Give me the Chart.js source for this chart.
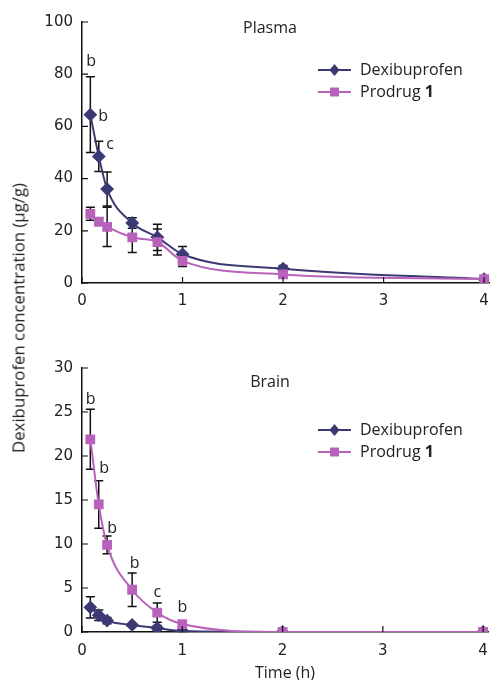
<!DOCTYPE html>
<html><head><meta charset="utf-8">
<script src="https://cdn.jsdelivr.net/npm/chart.js@4"></script>
<style>
body{margin:0;background:#fff;width:498px;height:680px;position:relative;overflow:hidden;font-family:"Open Sans",sans-serif}
.box{position:absolute;left:0;width:498px}
#ytitle{position:absolute;left:18px;top:318px;transform:translate(-50%,-50%) rotate(-90deg);white-space:nowrap;font-size:16.8px;color:#222}
#xtitle{position:absolute;left:285px;top:672px;transform:translate(-50%,-50%);white-space:nowrap;font-size:16px;color:#222}
</style></head><body>
<div class="box" style="top:0;height:320px"><canvas id="plasma"></canvas></div>
<div class="box" style="top:340px;height:340px"><canvas id="brain"></canvas></div>
<div id="ytitle">Dexibuprofen concentration (μg/g)</div>
<div id="xtitle">Time (h)</div>
<script>
// sampling times (h)
const times = [0.083, 0.167, 0.25, 0.5, 0.75, 1, 2, 4];
const xTicks = [0, 1, 2, 3, 4];

const plasmaDex    = [64.5, 48.5, 36, 23, 17.5, 11, 5.5, 1.5];
const plasmaDexErr = [14.5, 5.8, 6.5, 2, 5, 3, 1.2, 0.4];
const plasmaPro    = [26.5, 23.5, 21.5, 17.5, 15.7, 8.5, 3.3, 1.5];
const plasmaProErr = [2.5, 1.5, 7.5, 5.8, 5, 2.2, 1, 0.5];
const plasmaTicks  = [0, 20, 40, 60, 80, 100];
const plasmaSig    = [{x:0.09, y:85, t:'b'}, {x:0.21, y:64, t:'b'}, {x:0.28, y:53, t:'c'}];

const brainDex    = [2.8, 1.9, 1.3, 0.8, 0.45, 0.1, 0, 0];
const brainDexErr = [1.2, 0.6, 0.35, 0.15, 0.3, 0.05, 0, 0];
const brainPro    = [21.9, 14.5, 9.9, 4.8, 2.2, 0.9, 0, 0];
const brainProErr = [3.4, 2.7, 1, 1.9, 1.1, 0.3, 0, 0];
const brainTicks  = [0, 5, 10, 15, 20, 25, 30];
const brainSig    = [{x:0.085, y:26.4, t:'b'}, {x:0.22, y:18.6, t:'b'}, {x:0.3, y:11.8, t:'b'},
                     {x:0.525, y:7.8, t:'b'}, {x:0.75, y:4.5, t:'c'}, {x:1.0, y:2.75, t:'b'}];

const DEX = '#3c3a74', PRO = '#b862bc';
const TXT = '16px "Open Sans", sans-serif';

const extras = {
  id: 'extras',
  beforeDatasetsDraw(chart) {
    const {ctx, scales: {x, y}} = chart;
    const o = chart.options.plugins.extras;
    ctx.save();
    ctx.strokeStyle = '#111';
    ctx.lineWidth = 1.5;
    o.errs.forEach((errs, di) => {
      const vals = chart.data.datasets[di].data;
      vals.forEach((p, i) => {
        const e = errs[i];
        if (!e) return;
        const px = x.getPixelForValue(p.x);
        const top = y.getPixelForValue(p.y + e), bot = y.getPixelForValue(Math.max(p.y - e, 0));
        ctx.beginPath();
        ctx.moveTo(px, top); ctx.lineTo(px, bot);
        ctx.moveTo(px - 4.5, top); ctx.lineTo(px + 4.5, top);
        ctx.moveTo(px - 4.5, bot); ctx.lineTo(px + 4.5, bot);
        ctx.stroke();
      });
    });
    ctx.restore();
  },
  afterDraw(chart) {
    const {ctx, chartArea: a, scales: {x, y}} = chart;
    const o = chart.options.plugins.extras;
    ctx.save();
    // inward ticks
    ctx.strokeStyle = '#111';
    ctx.lineWidth = 1.2;
    ctx.beginPath();
    x.ticks.forEach(t => { const px = x.getPixelForValue(t.value); ctx.moveTo(px, a.bottom); ctx.lineTo(px, a.bottom - 6); });
    y.ticks.forEach(t => { const py = y.getPixelForValue(t.value); ctx.moveTo(a.left, py); ctx.lineTo(a.left + 6, py); });
    ctx.stroke();
    // panel title
    ctx.fillStyle = '#222';
    ctx.font = TXT;
    ctx.textAlign = 'center';
    ctx.textBaseline = 'middle';
    ctx.fillText(o.title, 270, o.titleY);
    // significance letters
    o.sig.forEach(s => ctx.fillText(s.t, x.getPixelForValue(s.x), y.getPixelForValue(s.y)));
    // legend
    ctx.textAlign = 'left';
    chart.data.datasets.forEach((ds, i) => {
      const ly = o.legendY + i * 22;
      ctx.strokeStyle = ds.borderColor;
      ctx.lineWidth = 2;
      ctx.beginPath(); ctx.moveTo(318, ly); ctx.lineTo(351, ly); ctx.stroke();
      ctx.fillStyle = ds.borderColor;
      ctx.beginPath();
      if (ds.pointStyle === 'rectRot') { ctx.moveTo(334.5, ly - 6); ctx.lineTo(339.5, ly); ctx.lineTo(334.5, ly + 6); ctx.lineTo(329.5, ly); }
      else ctx.rect(330, ly - 4.5, 9, 9);
      ctx.fill();
      ctx.fillStyle = '#222';
      ctx.font = TXT;
      ctx.fillText(ds.label, 360, ly);
      if (ds.bold) {
        const w = ctx.measureText(ds.label).width;
        ctx.font = 'bold ' + TXT;
        ctx.fillText(ds.bold, 360 + w, ly);
      }
    });
    ctx.restore();
  }
};

function makeChart(id, dex, pro, errs, ticks, sig, title, o) {
  const pts = arr => times.map((t, i) => ({x: t, y: arr[i]}));
  return new Chart(document.getElementById(id), {
    type: 'line',
    data: {
      datasets: [
        {label: 'Dexibuprofen', data: pts(dex), borderColor: DEX, backgroundColor: DEX, pointStyle: 'rectRot',
         pointRadius: 5.5, borderWidth: 2, cubicInterpolationMode: 'monotone', order: 2},
        {label: 'Prodrug ', bold: '1', data: pts(pro), borderColor: PRO, backgroundColor: PRO, pointStyle: 'rect',
         pointRadius: 5.5, borderWidth: 2, cubicInterpolationMode: 'monotone', order: 1}
      ]
    },
    options: {
      responsive: true,
      maintainAspectRatio: false,
      animation: false,
      layout: {padding: {top: o.padTop, right: 6, left: 0, bottom: 0}},
      plugins: {
        legend: {display: false},
        tooltip: {enabled: false},
        extras: {errs, sig, title, titleY: o.titleY, legendY: o.legendY}
      },
      scales: {
        x: {
          type: 'linear', min: 0, max: 4.05,
          afterBuildTicks: s => { s.ticks = xTicks.map(v => ({value: v})); },
          afterFit: s => { s.height = o.xh; },
          grid: {display: false, drawTicks: false},
          border: {display: true, color: '#111', width: 1.5},
          ticks: {color: '#222', padding: o.xpad, font: {family: 'DejaVu Sans', size: 15}}
        },
        y: {
          min: 0, max: ticks[ticks.length - 1],
          afterBuildTicks: s => { s.ticks = ticks.map(v => ({value: v})); },
          afterFit: s => { s.width = 82; },
          grid: {display: false, drawTicks: false},
          border: {display: true, color: '#111', width: 1.5},
          ticks: {color: '#222', padding: 9, font: {family: 'DejaVu Sans', size: 15}}
        }
      }
    },
    plugins: [extras]
  });
}

makeChart('plasma', plasmaDex, plasmaPro, [plasmaDexErr, plasmaProErr], plasmaTicks, plasmaSig, 'Plasma',
  {padTop: 22, xh: 37, xpad: 9, titleY: 28, legendY: 70});
makeChart('brain', brainDex, brainPro, [brainDexErr, brainProErr], brainTicks, brainSig, 'Brain',
  {padTop: 28, xh: 48, xpad: 10, titleY: 42, legendY: 90});
</script>
</body></html>
